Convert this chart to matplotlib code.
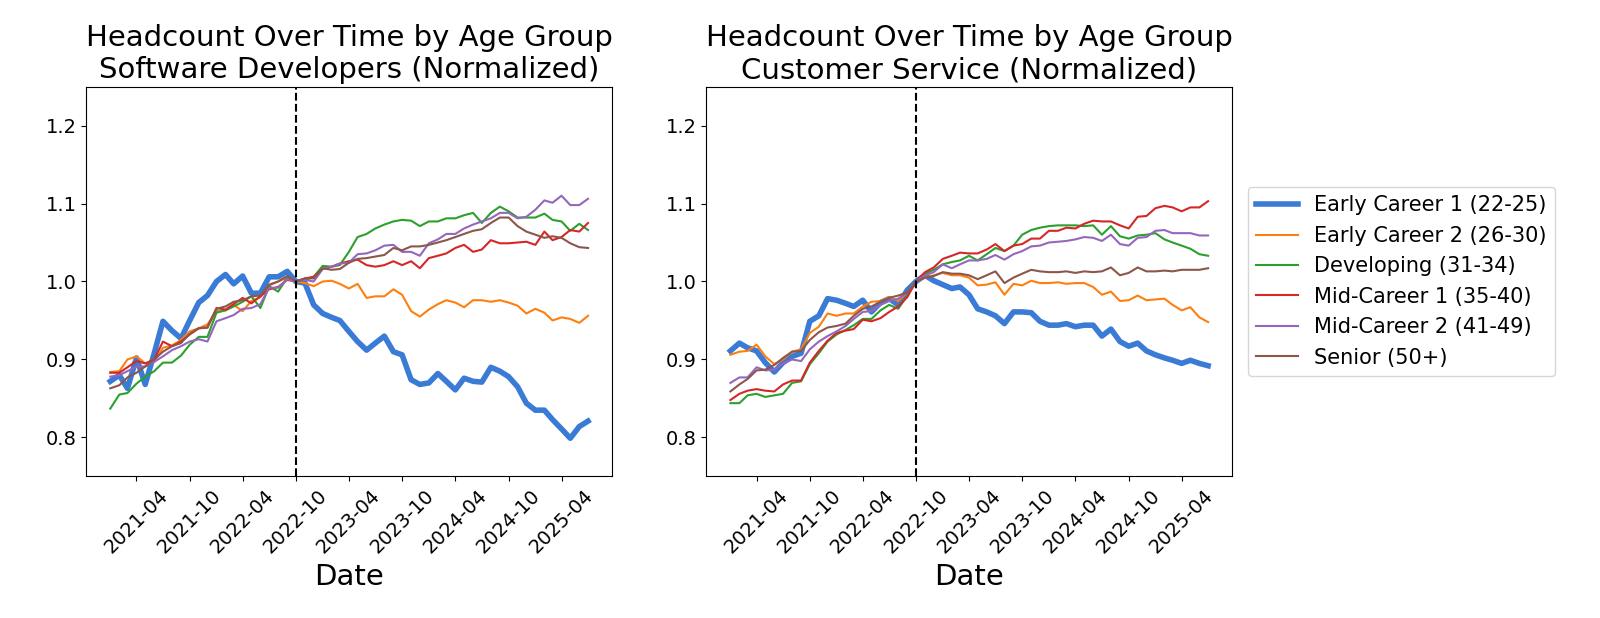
import numpy as np
import pandas as pd
import matplotlib
matplotlib.use("Agg")
import matplotlib.pyplot as plt
import matplotlib.dates as mdates

# monthly dates, Jan 2021 - Jul 2025
dates = pd.date_range("2021-01-01", periods=55, freq="MS")
cutoff = pd.Timestamp("2022-10-01")

groups = ["Early Career 1 (22-25)", "Early Career 2 (26-30)", "Developing (31-34)",
          "Mid-Career 1 (35-40)", "Mid-Career 2 (41-49)", "Senior (50+)"]
colors = ["#3a7bd5", "tab:orange", "tab:green", "tab:red", "tab:purple", "tab:brown"]

# Software developers (normalized to Oct 2022)
sd_early1 = [0.872, 0.880, 0.863, 0.902, 0.868, 0.908, 0.949, 0.937, 0.927, 0.950,
             0.973, 0.982, 1.000, 1.009, 0.997, 1.007, 0.985, 0.985, 1.006, 1.006,
             1.013, 1.000,
             0.998, 0.970, 0.959, 0.954, 0.950, 0.936, 0.923, 0.912, 0.921, 0.930,
             0.910, 0.906, 0.874, 0.868, 0.870, 0.882, 0.872, 0.861, 0.876, 0.872,
             0.871, 0.890, 0.885, 0.878, 0.865, 0.844, 0.835, 0.835, 0.823, 0.811,
             0.799, 0.814, 0.821]
sd_early2 = [0.884, 0.885, 0.900, 0.904, 0.895, 0.897, 0.915, 0.918, 0.925, 0.936,
             0.940, 0.945, 0.962, 0.963, 0.970, 0.962, 0.975, 0.980, 0.995, 1.000,
             1.005, 1.000,
             0.998, 0.994, 1.000, 1.001, 0.997, 0.991, 0.997, 0.979, 0.981, 0.981,
             0.990, 0.983, 0.962, 0.955, 0.964, 0.971, 0.976, 0.973, 0.967, 0.976,
             0.976, 0.974, 0.976, 0.973, 0.969, 0.959, 0.965, 0.960, 0.950, 0.954,
             0.952, 0.947, 0.956]
sd_dev = [0.837, 0.855, 0.857, 0.869, 0.878, 0.885, 0.896, 0.896, 0.905, 0.919,
          0.929, 0.929, 0.960, 0.963, 0.968, 0.974, 0.981, 0.966, 0.994, 0.987,
          1.005, 1.000,
          1.002, 1.006, 1.020, 1.019, 1.021, 1.038, 1.057, 1.061, 1.068, 1.073,
          1.077, 1.079, 1.078, 1.071, 1.077, 1.077, 1.081, 1.081, 1.085, 1.088,
          1.075, 1.088, 1.096, 1.090, 1.082, 1.082, 1.082, 1.087, 1.079, 1.077,
          1.065, 1.074, 1.066]
sd_mid1 = [0.883, 0.883, 0.890, 0.898, 0.895, 0.900, 0.923, 0.917, 0.923, 0.932,
           0.940, 0.941, 0.966, 0.964, 0.971, 0.979, 0.972, 0.981, 0.990, 0.993,
           1.002, 1.000,
           1.004, 1.006, 1.016, 1.019, 1.023, 1.026, 1.028, 1.021, 1.019, 1.021,
           1.026, 1.021, 1.026, 1.017, 1.030, 1.033, 1.036, 1.043, 1.047, 1.038,
           1.041, 1.053, 1.049, 1.049, 1.050, 1.051, 1.047, 1.064, 1.053, 1.057,
           1.066, 1.064, 1.075]
sd_mid2 = [0.878, 0.880, 0.885, 0.891, 0.891, 0.897, 0.904, 0.912, 0.917, 0.923,
           0.926, 0.923, 0.949, 0.953, 0.957, 0.965, 0.966, 0.971, 0.992, 0.992,
           1.003, 1.000,
           1.002, 1.000, 1.016, 1.019, 1.023, 1.024, 1.035, 1.036, 1.040, 1.046,
           1.047, 1.038, 1.038, 1.033, 1.049, 1.054, 1.061, 1.061, 1.068, 1.073,
           1.077, 1.081, 1.088, 1.088, 1.081, 1.083, 1.092, 1.104, 1.101, 1.110,
           1.098, 1.098, 1.106]
sd_senior = [0.863, 0.867, 0.877, 0.883, 0.891, 0.900, 0.910, 0.917, 0.921, 0.933,
             0.940, 0.941, 0.965, 0.968, 0.974, 0.976, 0.981, 0.982, 0.996, 1.000,
             1.007, 1.000,
             1.004, 1.004, 1.017, 1.015, 1.016, 1.024, 1.029, 1.030, 1.032, 1.034,
             1.043, 1.040, 1.045, 1.045, 1.047, 1.050, 1.053, 1.057, 1.061, 1.065,
             1.067, 1.075, 1.082, 1.082, 1.071, 1.064, 1.060, 1.056, 1.058, 1.056,
             1.049, 1.044, 1.043]

# Customer service (normalized to Oct 2022)
cs_early1 = [0.911, 0.921, 0.915, 0.911, 0.896, 0.884, 0.896, 0.904, 0.908, 0.949,
             0.956, 0.978, 0.976, 0.972, 0.968, 0.976, 0.961, 0.973, 0.978, 0.970,
             0.989, 1.000,
             1.008, 1.001, 0.996, 0.991, 0.993, 0.983, 0.965, 0.961, 0.956, 0.946,
             0.961, 0.961, 0.960, 0.949, 0.944, 0.944, 0.946, 0.942, 0.944, 0.944,
             0.930, 0.939, 0.923, 0.917, 0.921, 0.911, 0.906, 0.902, 0.899, 0.895,
             0.899, 0.895, 0.892]
cs_early2 = [0.906, 0.910, 0.911, 0.919, 0.904, 0.894, 0.900, 0.910, 0.913, 0.934,
             0.942, 0.959, 0.956, 0.959, 0.959, 0.968, 0.974, 0.975, 0.980, 0.975,
             0.986, 1.000,
             1.005, 1.008, 1.011, 1.008, 1.008, 1.005, 0.995, 0.996, 0.999, 0.983,
             0.997, 0.995, 1.001, 0.998, 0.998, 0.999, 0.997, 0.998, 0.998, 0.993,
             0.983, 0.987, 0.975, 0.976, 0.982, 0.976, 0.977, 0.978, 0.970, 0.963,
             0.967, 0.954, 0.948]
cs_dev = [0.844, 0.844, 0.854, 0.856, 0.852, 0.854, 0.856, 0.870, 0.872, 0.894,
          0.908, 0.923, 0.932, 0.938, 0.944, 0.952, 0.952, 0.963, 0.970, 0.965,
          0.982, 1.000,
          1.010, 1.015, 1.022, 1.025, 1.027, 1.033, 1.027, 1.035, 1.043, 1.039,
          1.046, 1.060, 1.066, 1.069, 1.071, 1.072, 1.072, 1.072, 1.071, 1.072,
          1.060, 1.071, 1.058, 1.055, 1.059, 1.060, 1.062, 1.054, 1.050, 1.046,
          1.042, 1.035, 1.033]
cs_mid1 = [0.848, 0.856, 0.860, 0.862, 0.860, 0.859, 0.868, 0.873, 0.873, 0.896,
           0.911, 0.924, 0.934, 0.937, 0.939, 0.951, 0.949, 0.953, 0.961, 0.968,
           0.980, 1.000,
           1.012, 1.018, 1.029, 1.033, 1.037, 1.036, 1.036, 1.041, 1.048, 1.039,
           1.046, 1.048, 1.055, 1.055, 1.065, 1.065, 1.069, 1.068, 1.074, 1.078,
           1.077, 1.077, 1.072, 1.068, 1.083, 1.084, 1.094, 1.097, 1.095, 1.090,
           1.095, 1.095, 1.103]
cs_mid2 = [0.870, 0.877, 0.877, 0.890, 0.886, 0.887, 0.895, 0.900, 0.898, 0.913,
           0.923, 0.930, 0.936, 0.943, 0.952, 0.961, 0.962, 0.970, 0.975, 0.978,
           0.986, 1.000,
           1.008, 1.012, 1.022, 1.017, 1.022, 1.027, 1.027, 1.029, 1.034, 1.028,
           1.035, 1.039, 1.045, 1.046, 1.050, 1.051, 1.052, 1.054, 1.057, 1.056,
           1.052, 1.060, 1.048, 1.046, 1.056, 1.057, 1.065, 1.066, 1.062, 1.062,
           1.062, 1.059, 1.059]
cs_senior = [0.859, 0.868, 0.875, 0.886, 0.887, 0.893, 0.902, 0.910, 0.911, 0.925,
             0.935, 0.941, 0.943, 0.946, 0.956, 0.965, 0.968, 0.974, 0.979, 0.982,
             0.986, 1.000,
             1.005, 1.007, 1.012, 1.010, 1.010, 1.008, 1.003, 1.008, 1.013, 0.998,
             1.005, 1.010, 1.015, 1.013, 1.012, 1.012, 1.013, 1.011, 1.013, 1.012,
             1.013, 1.018, 1.008, 1.011, 1.018, 1.013, 1.013, 1.014, 1.013, 1.015,
             1.015, 1.015, 1.017]

panels = [
    ("Headcount Over Time by Age Group\nSoftware Developers (Normalized)",
     [sd_early1, sd_early2, sd_dev, sd_mid1, sd_mid2, sd_senior]),
    ("Headcount Over Time by Age Group\nCustomer Service (Normalized)",
     [cs_early1, cs_early2, cs_dev, cs_mid1, cs_mid2, cs_senior]),
]

fig, axes = plt.subplots(1, 2, figsize=(16, 6.18), dpi=100)
fig.subplots_adjust(left=0.054, right=0.77, bottom=0.229, top=0.86, wspace=0.18)

for ax, (title, series) in zip(axes, panels):
    for name, vals, c in zip(groups, series, colors):
        lw = 4 if name.startswith("Early Career 1") else 1.5
        ax.plot(dates, vals, color=c, lw=lw, label=name)
    ax.axvline(cutoff, color="black", linestyle="--", lw=1.5)
    ax.set_title(title, fontsize=21)
    ax.set_xlabel("Date", fontsize=21)
    ax.set_ylim(0.75, 1.25)
    ax.set_yticks([0.8, 0.9, 1.0, 1.1, 1.2])
    ax.tick_params(axis="both", labelsize=14)
    ax.xaxis.set_major_locator(mdates.MonthLocator(bymonth=[4, 10]))
    ax.xaxis.set_major_formatter(mdates.DateFormatter("%Y-%m"))
    for lbl in ax.get_xticklabels():
        lbl.set_rotation(45)

axes[1].legend(loc="center left", bbox_to_anchor=(1.01, 0.5), fontsize=15)

fig.savefig("out.png", dpi=100)
